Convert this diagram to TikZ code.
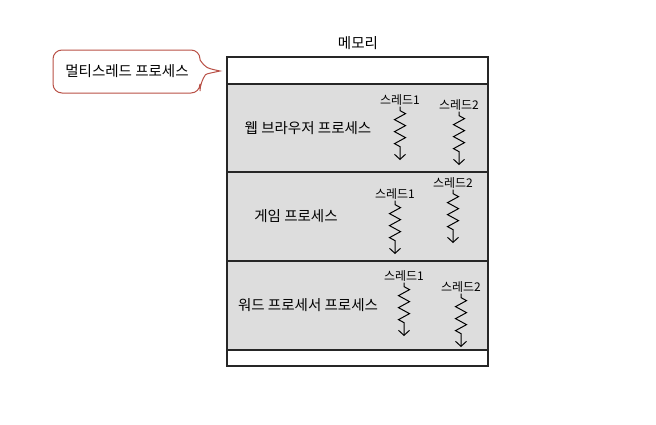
\documentclass[tikz,border=0pt]{standalone}
\usepackage{fontspec}
\setmainfont{Noto Sans CJK KR}
\usetikzlibrary{decorations.pathmorphing,arrows.meta}

\definecolor{calloutred}{RGB}{185,80,70}
\definecolor{rowgray}{RGB}{221,221,221}

\tikzset{
  rowbox/.style={draw=black!85,line width=1.1pt,fill=rowgray},
  lbl/.style={font=\fontsize{14.5}{16}\selectfont},
  thr/.style={font=\fontsize{12}{13}\selectfont,inner sep=1pt},
  zz/.style={-{Straight Barb[length=5pt,width=11pt]},line width=1pt,
    decorate,decoration={zigzag,amplitude=5.5pt,segment length=12pt,
    pre length=4pt,post length=12pt}}
}

\begin{document}
\begin{tikzpicture}[x=1pt,y=-1pt]
\useasboundingbox[fill=white] (0,0) rectangle (656,424);

% callout
\draw[calloutred,line width=1pt,rounded corners=9pt]
  (200,60) -- (200,50) -- (53,50) -- (53,93) -- (200,93) -- (200,82)
  [sharp corners] .. controls (206,74) .. (220,71) .. controls (206,68) .. (200,60);
\node[lbl] (multi) at (127,71) {멀티스레드 프로세스};

% memory
\node[lbl] (mem) at (358,43) {메모리};
\draw[black!85,line width=1.1pt,fill=white] (227,57) rectangle (488,366);
\draw[rowbox] (227,84) rectangle (488,172);
\draw[rowbox] (227,172) rectangle (488,261);
\draw[rowbox] (227,261) rectangle (488,350);

\node[lbl] (web) at (308,128) {웹 브라우저 프로세스};
\node[lbl] (game) at (296,216) {게임 프로세스};
\node[lbl] (word) at (308,305) {워드 프로세서 프로세스};

% threads
\foreach \n/\px/\py/\l in {w1/400/100/1,w2/459/105/2,g1/395/194/1,g2/453/183/2,d1/404/276/1,d2/461/287/2}{
  \node[thr] (\n) at (\px,\py) {스레드\l};
  \coordinate (\n end) at (\px,\py+60);
  \draw[zz] (\n.south) -- (\n end);
}
\end{tikzpicture}
\end{document}
